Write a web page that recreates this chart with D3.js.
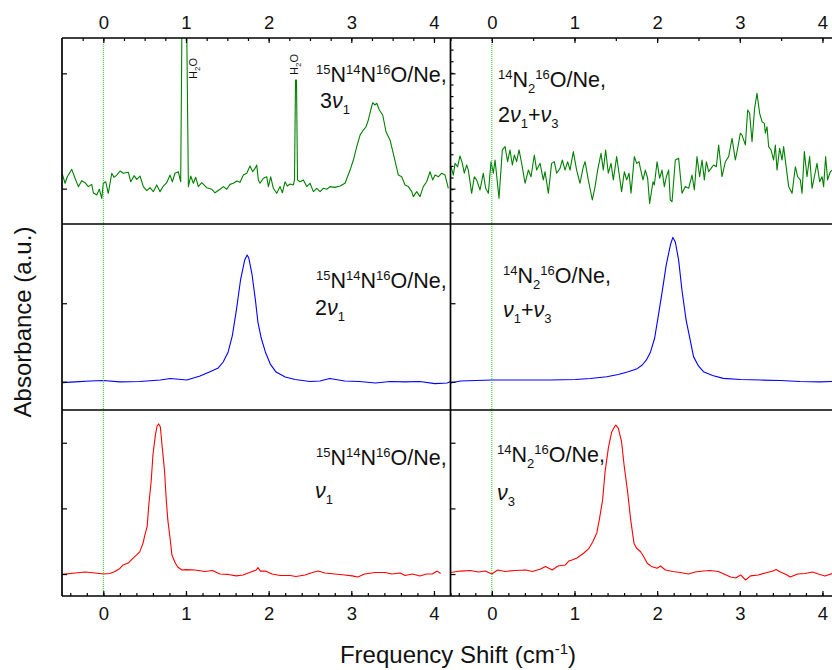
<!DOCTYPE html>
<html>
<head>
<meta charset="utf-8">
<script src="https://cdn.jsdelivr.net/npm/d3@7"></script>
<style>
body{margin:0;background:#fff;}
text{font-family:"Liberation Sans",Arial,sans-serif;}
</style>
</head>
<body>
<svg id="svg" width="832" height="670"></svg>
<script>
/*********************** data: [frequency shift (cm-1), absorbance (a.u.)] ***********************/

// 15N14N16O/Ne, 3v1 (top left)
var green15N = [[-0.50,0.273],[-0.463,0.219],[-0.436,0.254],[-0.382,0.294],[-0.342,0.246],[-0.302,0.201],[-0.261,0.233],[-0.221,0.222],[-0.181,0.201],[-0.140,0.213],[-0.121,0.168],[-0.080,0.156],[-0.048,0.187],[-0.019,0.138],[0.000,0.219],[0.029,0.227],[0.060,0.165],[0.102,0.273],[0.129,0.251],[0.162,0.263],[0.202,0.285],[0.242,0.273],[0.303,0.278],[0.332,0.227],[0.372,0.260],[0.404,0.240],[0.444,0.258],[0.484,0.201],[0.525,0.179],[0.565,0.195],[0.605,0.174],[0.646,0.210],[0.686,0.174],[0.726,0.204],[0.767,0.222],[0.807,0.263],[0.835,0.227],[0.867,0.273],[0.907,0.281],[0.936,0.227],[0.955,1.30],[1.003,1.30],[1.029,0.201],[1.057,0.258],[1.089,0.219],[1.118,0.251],[1.149,0.201],[1.190,0.222],[1.251,0.195],[1.311,0.187],[1.351,0.168],[1.412,0.187],[1.452,0.201],[1.493,0.187],[1.533,0.213],[1.573,0.219],[1.614,0.231],[1.654,0.224],[1.694,0.263],[1.735,0.273],[1.775,0.312],[1.807,0.281],[1.835,0.299],[1.856,0.317],[1.875,0.237],[1.896,0.219],[1.936,0.246],[1.977,0.254],[1.997,0.201],[2.025,0.254],[2.057,0.192],[2.098,0.165],[2.138,0.201],[2.166,0.168],[2.198,0.227],[2.226,0.204],[2.259,0.215],[2.299,0.210],[2.313,0.237],[2.325,0.774],[2.337,0.774],[2.349,0.237],[2.380,0.227],[2.420,0.237],[2.461,0.201],[2.501,0.219],[2.541,0.174],[2.582,0.192],[2.622,0.174],[2.662,0.192],[2.703,0.187],[2.743,0.201],[2.803,0.197],[2.864,0.204],[2.924,0.219],[2.985,0.290],[3.025,0.344],[3.066,0.416],[3.106,0.478],[3.146,0.505],[3.178,0.523],[3.206,0.559],[3.235,0.613],[3.259,0.652],[3.284,0.640],[3.308,0.649],[3.339,0.613],[3.380,0.586],[3.420,0.496],[3.468,0.452],[3.517,0.362],[3.569,0.263],[3.610,0.254],[3.650,0.210],[3.690,0.201],[3.731,0.174],[3.750,0.147],[3.791,0.174],[3.831,0.147],[3.871,0.201],[3.912,0.227],[3.952,0.281],[3.985,0.237],[4.013,0.263],[4.053,0.254],[4.094,0.273],[4.134,0.263],[4.174,0.192]];

// 14N2 16O/Ne, 2v1+v3 (top right)
var green14N = [[-0.494,0.308],[-0.466,0.263],[-0.445,0.326],[-0.414,0.308],[-0.385,0.366],[-0.357,0.326],[-0.333,0.273],[-0.305,0.317],[-0.284,0.290],[-0.244,0.165],[-0.212,0.254],[-0.184,0.237],[-0.143,0.183],[-0.103,0.273],[-0.075,0.192],[-0.042,0.165],[-0.010,0.335],[0.018,0.273],[0.039,0.344],[0.087,0.138],[0.127,0.398],[0.160,0.416],[0.191,0.335],[0.220,0.398],[0.248,0.317],[0.272,0.371],[0.300,0.335],[0.329,0.398],[0.361,0.326],[0.402,0.219],[0.442,0.290],[0.474,0.254],[0.514,0.371],[0.542,0.290],[0.583,0.326],[0.623,0.237],[0.644,0.281],[0.684,0.165],[0.723,0.326],[0.756,0.335],[0.784,0.273],[0.825,0.299],[0.853,0.344],[0.886,0.290],[0.917,0.335],[0.946,0.290],[0.986,0.389],[1.026,0.290],[1.067,0.219],[1.107,0.308],[1.128,0.335],[1.167,0.237],[1.216,0.129],[1.249,0.201],[1.280,0.290],[1.321,0.380],[1.349,0.290],[1.377,0.398],[1.409,0.273],[1.442,0.326],[1.470,0.237],[1.510,0.362],[1.539,0.273],[1.570,0.174],[1.603,0.281],[1.631,0.237],[1.660,0.273],[1.684,0.165],[1.724,0.362],[1.752,0.326],[1.781,0.335],[1.797,0.299],[1.829,0.237],[1.857,0.290],[1.885,0.246],[1.909,0.111],[1.950,0.227],[1.966,0.210],[1.999,0.335],[2.030,0.246],[2.059,0.290],[2.087,0.201],[2.111,0.254],[2.139,0.290],[2.159,0.129],[2.180,0.120],[2.220,0.344],[2.260,0.353],[2.301,0.165],[2.341,0.201],[2.381,0.192],[2.422,0.263],[2.450,0.183],[2.482,0.362],[2.514,0.254],[2.543,0.344],[2.571,0.237],[2.595,0.335],[2.623,0.281],[2.652,0.299],[2.683,0.317],[2.716,0.308],[2.744,0.425],[2.785,0.254],[2.825,0.335],[2.865,0.362],[2.906,0.461],[2.946,0.344],[2.974,0.407],[3.006,0.488],[3.027,0.478],[3.067,0.425],[3.095,0.613],[3.119,0.595],[3.148,0.442],[3.179,0.622],[3.208,0.703],[3.240,0.595],[3.269,0.550],[3.297,0.541],[3.309,0.488],[3.329,0.523],[3.349,0.416],[3.378,0.398],[3.409,0.344],[3.430,0.425],[3.450,0.290],[3.482,0.407],[3.511,0.344],[3.530,0.416],[3.563,0.299],[3.591,0.201],[3.632,0.165],[3.672,0.308],[3.700,0.254],[3.732,0.237],[3.753,0.165],[3.781,0.389],[3.813,0.254],[3.845,0.362],[3.874,0.192],[3.902,0.254],[3.934,0.326],[3.966,0.227],[3.995,0.254],[4.014,0.201],[4.038,0.362],[4.062,0.237],[4.095,0.281],[4.119,0.290]];

// 15N14N16O/Ne, 2v1 (middle left)
var blue15N = [[-0.50,0.147],[-0.34,0.151],[-0.16,0.156],[0.00,0.159],[0.20,0.151],[0.44,0.153],[0.69,0.161],[0.81,0.169],[1.01,0.161],[1.17,0.183],[1.29,0.206],[1.39,0.226],[1.45,0.258],[1.51,0.312],[1.56,0.398],[1.61,0.538],[1.66,0.699],[1.71,0.806],[1.74,0.833],[1.76,0.817],[1.80,0.726],[1.84,0.591],[1.87,0.473],[1.91,0.387],[1.96,0.312],[2.02,0.247],[2.09,0.204],[2.20,0.177],[2.32,0.164],[2.50,0.153],[2.62,0.156],[2.74,0.169],[2.92,0.156],[3.10,0.153],[3.29,0.145],[3.47,0.153],[3.65,0.151],[3.83,0.153],[4.01,0.142],[4.16,0.145],[4.20,0.153]];

// 14N2 16O/Ne, v1+v3 (middle right)
var blue14N = [[-0.50,0.145],[-0.38,0.156],[0.00,0.161],[0.35,0.161],[0.71,0.161],[1.01,0.164],[1.19,0.169],[1.39,0.179],[1.53,0.191],[1.65,0.206],[1.75,0.220],[1.82,0.242],[1.87,0.269],[1.92,0.312],[1.97,0.387],[2.01,0.495],[2.06,0.634],[2.11,0.780],[2.16,0.887],[2.19,0.928],[2.22,0.903],[2.26,0.806],[2.30,0.645],[2.35,0.484],[2.40,0.376],[2.44,0.287],[2.50,0.237],[2.56,0.206],[2.67,0.185],[2.80,0.170],[3.01,0.164],[3.25,0.161],[3.49,0.159],[3.73,0.153],[3.97,0.151],[4.12,0.153]];

// 15N14N16O/Ne, v1 (bottom left)
var red15N = [[-0.50,0.116],[-0.34,0.124],[-0.22,0.129],[-0.10,0.124],[0.00,0.118],[0.08,0.121],[0.14,0.132],[0.20,0.148],[0.24,0.167],[0.30,0.177],[0.36,0.204],[0.40,0.220],[0.44,0.237],[0.48,0.283],[0.50,0.323],[0.53,0.373],[0.55,0.489],[0.58,0.624],[0.60,0.758],[0.63,0.866],[0.65,0.914],[0.67,0.925],[0.69,0.909],[0.71,0.812],[0.74,0.677],[0.76,0.527],[0.78,0.409],[0.81,0.301],[0.83,0.220],[0.87,0.177],[0.90,0.156],[0.95,0.140],[1.00,0.142],[1.11,0.140],[1.23,0.132],[1.32,0.137],[1.41,0.118],[1.51,0.116],[1.61,0.108],[1.69,0.113],[1.77,0.126],[1.85,0.140],[1.87,0.153],[1.90,0.134],[1.96,0.134],[2.04,0.118],[2.14,0.110],[2.26,0.110],[2.33,0.105],[2.44,0.113],[2.53,0.126],[2.60,0.134],[2.68,0.124],[2.80,0.118],[2.92,0.113],[3.01,0.108],[3.08,0.102],[3.16,0.118],[3.29,0.126],[3.41,0.126],[3.49,0.118],[3.59,0.124],[3.65,0.110],[3.74,0.118],[3.83,0.108],[3.91,0.118],[3.98,0.118],[4.04,0.134],[4.08,0.121]];

// 14N2 16O/Ne, v3 (bottom right)
var red14N = [[-0.50,0.126],[-0.38,0.134],[-0.26,0.137],[-0.16,0.129],[-0.08,0.134],[0.00,0.118],[0.07,0.140],[0.16,0.132],[0.28,0.137],[0.41,0.140],[0.49,0.132],[0.59,0.145],[0.65,0.159],[0.73,0.140],[0.80,0.161],[0.89,0.167],[0.93,0.188],[0.97,0.194],[1.03,0.204],[1.11,0.230],[1.17,0.253],[1.22,0.290],[1.27,0.339],[1.30,0.409],[1.34,0.516],[1.37,0.667],[1.41,0.796],[1.45,0.882],[1.49,0.914],[1.50,0.919],[1.53,0.903],[1.57,0.828],[1.60,0.704],[1.64,0.570],[1.68,0.409],[1.72,0.283],[1.75,0.258],[1.80,0.238],[1.84,0.210],[1.88,0.176],[1.93,0.159],[2.00,0.149],[2.04,0.161],[2.10,0.140],[2.19,0.132],[2.28,0.126],[2.38,0.118],[2.46,0.129],[2.56,0.134],[2.64,0.137],[2.74,0.132],[2.82,0.116],[2.89,0.102],[2.95,0.097],[3.01,0.113],[3.07,0.086],[3.13,0.108],[3.22,0.113],[3.31,0.124],[3.40,0.134],[3.44,0.142],[3.49,0.129],[3.56,0.116],[3.61,0.102],[3.70,0.118],[3.79,0.121],[3.88,0.129],[3.95,0.118],[4.03,0.108],[4.12,0.121]];

// axis ticks
var xMajor = [0, 1, 2, 3, 4];
var xMinorBottom = d3.range(-0.4, 4.21, 0.2);
var xMinorTopLeft = d3.range(-0.25, 4.21, 0.25);
var xMinorTopRight = d3.range(-0.5, 4.21, 0.5);
var yMajorTop = [0.19, 0.81];
var yMinorTopRight = d3.range(1, 16).map(function(k){ return k / 16; });
var yMajorMid = [0.152, 0.574];
var yMajorBot = [0.118, 0.471, 0.824];

// text
var lab15 = [["15","sup"],["N",""],["14","sup"],["N",""],["16","sup"],["O/Ne,",""]];
var lab14 = [["14","sup"],["N",""],["2","sub"],["16","sup"],["O/Ne,",""]];
var mode3v1 = [["3",""],["\u03bd","i"],["1","sub"]];
var mode2v1 = [["2",""],["\u03bd","i"],["1","sub"]];
var modeV1 = [["\u03bd","i"],["1","sub"]];
var mode2v1v3 = [["2",""],["\u03bd","i"],["1","sub"],["+",""],["\u03bd","i"],["3","sub"]];
var modeV1V3 = [["\u03bd","i"],["1","sub"],["+",""],["\u03bd","i"],["3","sub"]];
var modeV3 = [["\u03bd","i"],["3","sub"]];
var h2o = [["H",""],["2","sub"],["O",""]];

/*********************** layout ***********************/
var svg = d3.select("#svg");
var cols = [[62, 450.5], [450.5, 839]];
var rows = [[38, 224], [224, 410], [410, 596]];

var panels = [
    {col:0, row:0, data:green15N, color:"#008000", yMajor:yMajorTop, yMinor:[], lab:lab15, mode:mode3v1, lx:316, ly:82, mx:320, my:108},
    {col:1, row:0, data:green14N, color:"#008000", yMajor:yMajorTop, yMinor:yMinorTopRight, lab:lab14, mode:mode2v1v3, lx:498, ly:87, mx:498, my:122},
    {col:0, row:1, data:blue15N, color:"#0000ff", yMajor:yMajorMid, yMinor:[], lab:lab15, mode:mode2v1, lx:316, ly:288, mx:315, my:315},
    {col:1, row:1, data:blue14N, color:"#0000ff", yMajor:yMajorMid, yMinor:[], lab:lab14, mode:modeV1V3, lx:503, ly:283, mx:503, my:317},
    {col:0, row:2, data:red15N, color:"#ff0000", yMajor:yMajorBot, yMinor:[], lab:lab15, mode:modeV1, lx:316, ly:465, mx:315, my:498},
    {col:1, row:2, data:red14N, color:"#ff0000", yMajor:yMajorBot, yMinor:[], lab:lab14, mode:modeV3, lx:497, ly:462, mx:497, my:500}
];

var xs = cols.map(function(c){ return d3.scaleLinear().domain([-0.5, 4.2]).range(c); });

//写带上下标的文字
function richText(g, x, y, parts, size, small, transform){
    var t = g.append("text").attr("font-size", size).attr("fill", "#111");
    if (transform) t.attr("transform", transform);
    else t.attr("x", x).attr("y", y);
    var shift = 0;
    parts.forEach(function(p){
        var target = p[1] == "sup" ? -size * 0.38 : (p[1] == "sub" ? size * 0.28 : 0);
        var ts = t.append("tspan").attr("dy", target - shift).text(p[0]);
        if (p[1] == "sup" || p[1] == "sub") ts.attr("font-size", small);
        if (p[1] == "i") ts.attr("font-style", "italic");
        shift = target;
    });
    return t;
}

//刻度: 每组刻度单独一个g
function tickGroup(tx, ty, axis){
    var g = svg.append("g").attr("transform", "translate(" + tx + "," + ty + ")").call(axis);
    g.selectAll(".domain").remove();
    g.attr("font-family", null).attr("font-size", 18.5);
    g.selectAll("text").attr("fill", "#111");
    g.selectAll("line").attr("stroke", "#000").attr("stroke-width", 1.2);
    return g;
}

var defs = svg.append("defs");

panels.forEach(function(p, i){
    var x = xs[p.col];
    var r = rows[p.row];
    var y = d3.scaleLinear().domain([0, 1]).range([r[1], r[0]]);

    defs.append("clipPath").attr("id", "clip" + i).append("rect")
        .attr("x", cols[p.col][0]).attr("y", r[0])
        .attr("width", cols[p.col][1] - cols[p.col][0]).attr("height", r[1] - r[0]);

    var line = d3.line().x(function(d){ return x(d[0]); }).y(function(d){ return y(d[1]); });

    svg.append("path").datum(p.data)
        .attr("clip-path", "url(#clip" + i + ")")
        .attr("fill", "none").attr("stroke", p.color).attr("stroke-width", 1.1)
        .attr("stroke-linejoin", "round")
        .attr("d", line);

    // y ticks, inward
    tickGroup(cols[p.col][0], 0, d3.axisLeft(y).tickValues(p.yMajor).tickSize(-5).tickFormat(""));
    if (p.yMinor.length) tickGroup(cols[p.col][0], 0, d3.axisLeft(y).tickValues(p.yMinor).tickSize(-3).tickFormat(""));

    richText(svg, p.lx, p.ly, p.lab, 21.5, 13);
    richText(svg, p.mx, p.my, p.mode, 21.5, 13);
});

// zero lines
xs.forEach(function(x){
    svg.append("line")
        .attr("x1", x(0)).attr("x2", x(0)).attr("y1", rows[0][0]).attr("y2", rows[2][1])
        .attr("stroke", "#22cc22").attr("stroke-width", 1).attr("stroke-dasharray", "1,1");
});

// H2O marks
richText(svg, 0, 0, h2o, 11, 8, "translate(197,79) rotate(-90)");
richText(svg, 0, 0, h2o, 11, 8, "translate(298,75) rotate(-90)");

// x axes
var fmt = d3.format("d");
xs.forEach(function(x, c){
    tickGroup(0, rows[0][0], d3.axisTop(x).tickValues(xMajor).tickFormat(fmt).tickSize(-5).tickPadding(9));
    tickGroup(0, rows[0][0], d3.axisTop(x).tickValues(c == 0 ? xMinorTopLeft : xMinorTopRight).tickSize(-3).tickFormat(""));
    tickGroup(0, rows[2][1], d3.axisBottom(x).tickValues(xMajor).tickFormat(fmt).tickSize(-5).tickPadding(11));
    tickGroup(0, rows[2][1], d3.axisBottom(x).tickValues(xMinorBottom).tickSize(-3).tickFormat(""));
});

// frame
var frame = svg.append("g").attr("stroke", "#000").attr("stroke-width", 1.7).attr("fill", "none");
[rows[0][0], rows[0][1], rows[1][1], rows[2][1]].forEach(function(yy){
    frame.append("line").attr("x1", cols[0][0]).attr("x2", cols[1][1]).attr("y1", yy).attr("y2", yy);
});
[cols[0][0], cols[1][0], cols[1][1]].forEach(function(xx){
    frame.append("line").attr("x1", xx).attr("x2", xx).attr("y1", rows[0][0]).attr("y2", rows[2][1]);
});

// axis titles
svg.append("text").attr("transform", "translate(31,322) rotate(-90)")
    .attr("text-anchor", "middle").attr("font-size", 24).attr("fill", "#111")
    .text("Absorbance (a.u.)");
var xt = richText(svg, 458, 663, [["Frequency Shift (cm",""],["-1","sup"],[")",""]], 24, 15);
xt.attr("text-anchor", "middle");
</script>
</body>
</html>
